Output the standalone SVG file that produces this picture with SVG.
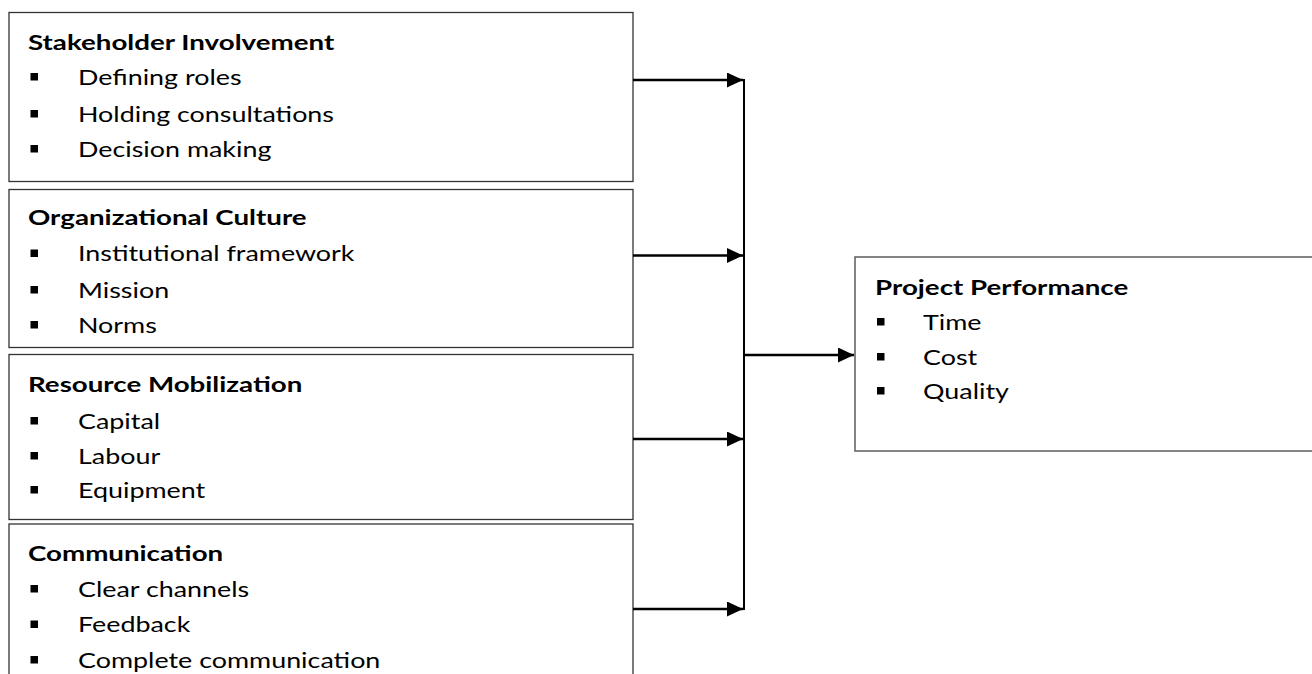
<svg xmlns="http://www.w3.org/2000/svg" width="1312" height="674" viewBox="0 0 1312 674">
<style>
.box{fill:#fff;stroke:#333;stroke-width:1.3}
.t{font-family:Lato,"Open Sans",sans-serif;font-size:21px;fill:#000}
.b{font-weight:bold}
.bul{fill:#000}
.c{stroke:#000;stroke-width:2.5;fill:none}
</style>
<defs>
<marker id="ah" viewBox="0 0 16 15" refX="16" refY="7.5" markerWidth="16" markerHeight="15" markerUnits="userSpaceOnUse" orient="auto">
<path d="M0,0 L16,7.5 L0,15 Z" fill="#000"/>
</marker>
</defs>
<rect width="1312" height="674" fill="#fff"/>
<g id="stakeholder">
<rect class="box" x="9" y="12.5" width="624" height="169"/>
<g transform="scale(1.32 1)"><text class="t b" x="21.2" y="50">Stakeholder Involvement</text></g>
<rect class="bul" x="30.5" y="73" width="7.5" height="7.5"/>
<rect class="bul" x="30.5" y="110" width="7.5" height="7.5"/>
<rect class="bul" x="30.5" y="145" width="7.5" height="7.5"/>
<g transform="scale(1.28 1)">
<text class="t" x="60.94" y="85">Defining roles</text>
<text class="t" x="60.94" y="122">Holding consultations</text>
<text class="t" x="60.94" y="157">Decision making</text>
</g>
</g>
<g id="culture">
<rect class="box" x="9" y="189.5" width="624" height="158"/>
<g transform="scale(1.32 1)"><text class="t b" x="21.2" y="225">Organizational Culture</text></g>
<rect class="bul" x="30.5" y="249.5" width="7.5" height="7.5"/>
<rect class="bul" x="30.5" y="286" width="7.5" height="7.5"/>
<rect class="bul" x="30.5" y="321" width="7.5" height="7.5"/>
<g transform="scale(1.28 1)">
<text class="t" x="60.94" y="261.5">Institutional framework</text>
<text class="t" x="60.94" y="298">Mission</text>
<text class="t" x="60.94" y="333">Norms</text>
</g>
</g>
<g id="resource">
<rect class="box" x="9" y="354.5" width="624" height="165"/>
<g transform="scale(1.32 1)"><text class="t b" x="21.2" y="392.5">Resource Mobilization</text></g>
<rect class="bul" x="30.5" y="417" width="7.5" height="7.5"/>
<rect class="bul" x="30.5" y="452" width="7.5" height="7.5"/>
<rect class="bul" x="30.5" y="486" width="7.5" height="7.5"/>
<g transform="scale(1.28 1)">
<text class="t" x="60.94" y="429">Capital</text>
<text class="t" x="60.94" y="464">Labour</text>
<text class="t" x="60.94" y="498">Equipment</text>
</g>
</g>
<g id="communication">
<rect class="box" x="9" y="524" width="624" height="170"/>
<g transform="scale(1.32 1)"><text class="t b" x="21.2" y="561.5">Communication</text></g>
<rect class="bul" x="30.5" y="585" width="7.5" height="7.5"/>
<rect class="bul" x="30.5" y="620.5" width="7.5" height="7.5"/>
<rect class="bul" x="30.5" y="656" width="7.5" height="7.5"/>
<g transform="scale(1.28 1)">
<text class="t" x="60.94" y="597">Clear channels</text>
<text class="t" x="60.94" y="632.5">Feedback</text>
<text class="t" x="60.94" y="668">Complete communication</text>
</g>
</g>
<g id="performance">
<rect class="box" x="855" y="257" width="470" height="194" style="stroke:#666;stroke-width:1.6"/>
<g transform="scale(1.32 1)"><text class="t b" x="662.9" y="295">Project Performance</text></g>
<rect class="bul" x="877" y="318" width="7.5" height="7.5"/>
<rect class="bul" x="877" y="353" width="7.5" height="7.5"/>
<rect class="bul" x="877" y="387" width="7.5" height="7.5"/>
<g transform="scale(1.28 1)">
<text class="t" x="721.1" y="330">Time</text>
<text class="t" x="721.1" y="365">Cost</text>
<text class="t" x="721.1" y="399">Quality</text>
</g>
</g>
<g id="connectors">
<line class="c" x1="633" y1="80" x2="743" y2="80" marker-end="url(#ah)"/>
<line class="c" x1="633" y1="255.5" x2="743" y2="255.5" marker-end="url(#ah)"/>
<line class="c" x1="633" y1="439" x2="743" y2="439" marker-end="url(#ah)"/>
<line class="c" x1="633" y1="609" x2="743" y2="609" marker-end="url(#ah)"/>
<line x1="744" y1="79" x2="744" y2="610" stroke="#000" stroke-width="2"/>
<line class="c" x1="744" y1="355" x2="854" y2="355" marker-end="url(#ah)"/>
</g>
</svg>
